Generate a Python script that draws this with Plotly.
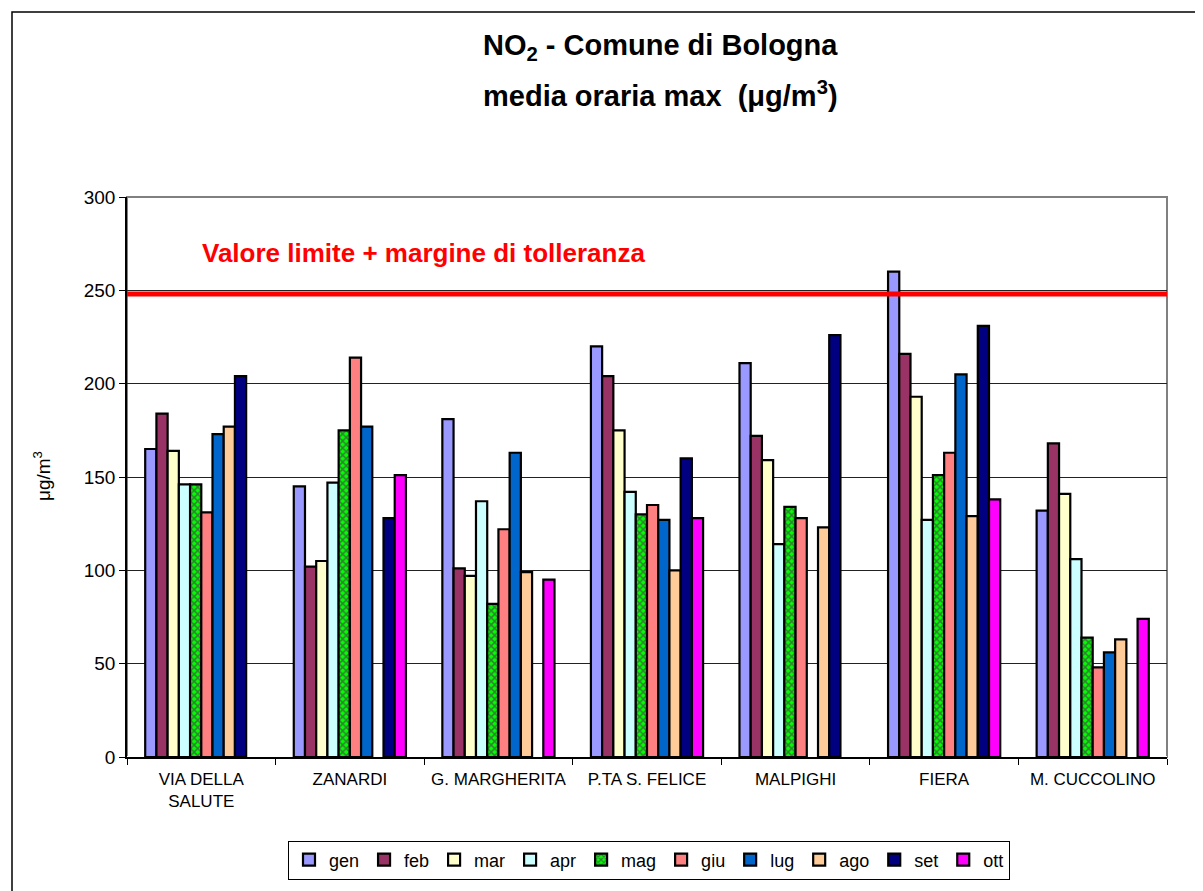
import plotly.graph_objects as go

stations = ["VIA DELLA<br>SALUTE", "ZANARDI", "G. MARGHERITA", "P.TA S. FELICE",
            "MALPIGHI", "FIERA", "M. CUCCOLINO"]
months = ["gen", "feb", "mar", "apr", "mag", "giu", "lug", "ago", "set", "ott"]

gen = [165, 145, 181, 220, 211, 260, 132]
feb = [184, 102, 101, 204, 172, 216, 168]
mar = [164, 105, 97, 175, 159, 193, 141]
apr = [146, 147, 137, 142, 114, 127, 106]
mag = [146, 175, 82, 130, 134, 151, 64]
giu = [131, 214, 122, 135, 128, 163, 48]
lug = [173, 177, 163, 127, None, 205, 56]
ago = [177, None, 99, 100, 123, 129, 63]
set_ = [204, 128, None, 160, 226, 231, None]
ott = [None, 151, 95, 128, None, 138, 74]

limit_value = 248

series = [gen, feb, mar, apr, mag, giu, lug, ago, set_, ott]
colors = ["#9999FF", "#993366", "#FFFFCC", "#CCFFFF", "#00FF00",
          "#FF8080", "#0066CC", "#FFCC99", "#000080", "#FF00FF"]

fig = go.Figure()
for name, vals, col in zip(months, series, colors):
    marker = dict(color=col, line=dict(color="black", width=2.2))
    if name == "mag":
        marker["pattern"] = dict(shape="x", fgcolor="#660066", bgcolor="#00FF00",
                                 size=5, solidity=0.5)
    fig.add_trace(go.Bar(name=name, x=stations, y=vals, marker=marker))

# page is drawn with an 8px offset, so work in figure coords
W, H = 1195, 883
L, R, T, B = 119, 36, 189, 134
pw, ph = W - L - R, H - T - B


def px_x(x):
    return (x - L) / pw


def px_y(y):
    return (T + ph - y) / ph


fig.add_shape(type="line", xref="paper", yref="y", x0=0, x1=1,
              y0=limit_value, y1=limit_value, line=dict(color="#FF0000", width=5))
# outer chart border
fig.add_shape(type="rect", xref="paper", yref="paper",
              x0=px_x(4), x1=px_x(W + 10), y0=px_y(H + 10), y1=px_y(4),
              line=dict(color="black", width=1.5), layer="below")
# plot area border
fig.add_shape(type="rect", xref="paper", yref="paper", x0=0, x1=1, y0=0, y1=1,
              line=dict(color="#808080", width=2), layer="below")

fig.add_annotation(text="<b>NO<sub>2</sub> - Comune di Bologna</b>",
                   xref="paper", yref="paper", x=px_x(652), y=px_y(39),
                   xanchor="center", yanchor="middle",
                   showarrow=False, font=dict(size=29))
fig.add_annotation(text="<b>media oraria max  (μg/m<sup>3</sup>)</b>",
                   xref="paper", yref="paper", x=px_x(652), y=px_y(86),
                   xanchor="center", yanchor="middle",
                   showarrow=False, font=dict(size=29))
fig.add_annotation(text="<b>Valore limite + margine di tolleranza</b>",
                   xref="paper", yref="paper", x=px_x(192), y=px_y(245),
                   xanchor="left", yanchor="middle", showarrow=False,
                   font=dict(size=26, color="#FF0000"))
fig.add_annotation(text="μg/m<sup>3</sup>", textangle=-90,
                   xref="paper", yref="paper", x=px_x(34), y=px_y(468),
                   xanchor="center", yanchor="middle",
                   showarrow=False, font=dict(size=19))

fig.update_layout(
    width=W, height=H,
    margin=dict(l=L, r=R, t=T, b=B),
    paper_bgcolor="white", plot_bgcolor="white",
    font=dict(family="Arial", color="black"),
    barmode="group", bargap=0.245, bargroupgap=0,
    legend=dict(orientation="h", x=px_x(641), xanchor="center",
                y=px_y(852), yanchor="middle",
                bordercolor="black", borderwidth=1, font=dict(size=18),
                itemwidth=30, tracegroupgap=0),
    showlegend=True,
)
fig.update_xaxes(showline=True, linecolor="black", linewidth=1.5, ticks="outside",
                 tickson="boundaries", ticklen=6, tickcolor="black",
                 tickfont=dict(size=17), ticklabelstandoff=6, mirror=False)
fig.update_yaxes(range=[0, 300], dtick=50, showline=True, linecolor="black", linewidth=1.5,
                 ticks="outside", ticklen=6, tickcolor="black", tickfont=dict(size=19),
                 showgrid=True, gridcolor="#222222", gridwidth=1)

fig.write_html("out.html")
